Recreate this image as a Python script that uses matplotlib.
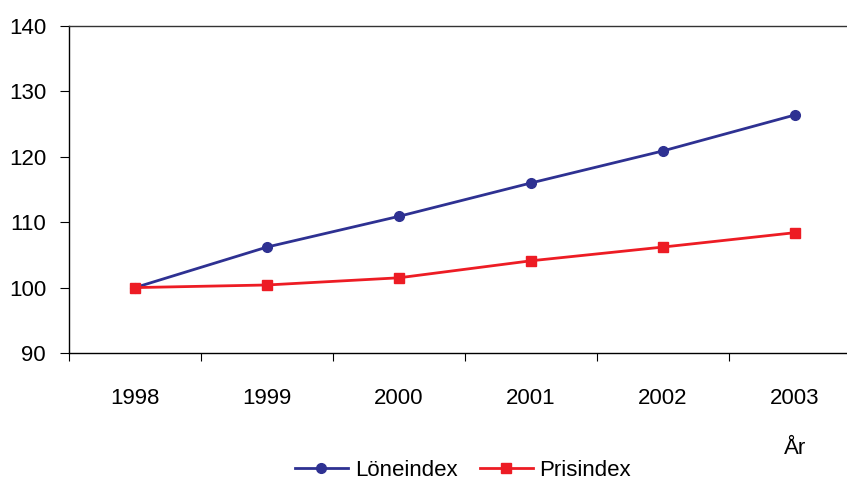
import matplotlib
matplotlib.use("Agg")
import matplotlib.pyplot as plt

years = ["1998", "1999", "2000", "2001", "2002", "2003"]
loneindex = [100.0, 106.2, 110.9, 116.0, 120.9, 126.4]
prisindex = [100.0, 100.4, 101.5, 104.1, 106.2, 108.4]
yticks = [90, 100, 110, 120, 130, 140]

plt.rcParams['font.family'] = ['Liberation Sans', 'DejaVu Sans']
fs = 16

fig = plt.figure(figsize=(8.47, 4.82), dpi=100)
ax = fig.add_axes([69/847, (482-353)/482, (861-69)/847, (353-26)/482])

x = list(range(len(years)))
l1, = ax.plot(x, loneindex, color='#2E3192', lw=2, marker='o', ms=7, label='Löneindex')
l2, = ax.plot(x, prisindex, color='#ED1C24', lw=2, marker='s', ms=6.5, label='Prisindex')

ax.set_xlim(-0.5, len(years) - 0.5)
ax.set_ylim(90, 140)
ax.set_yticks(yticks)
ax.set_yticklabels([str(v) for v in yticks], fontsize=fs)
ax.tick_params(axis='y', direction='out', length=6.5, width=0.8, pad=10)

ax.set_xticks([i - 0.5 for i in range(len(years) + 1)])
ax.set_xticklabels([])
ax.tick_params(axis='x', which='major', direction='out', length=6, width=0.8)
ax.set_xticks(x, minor=True)
ax.set_xticklabels(years, minor=True, fontsize=fs)
ax.tick_params(axis='x', which='minor', length=0, pad=25)

ax.spines['right'].set_visible(False)
ax.spines['top'].set_color('#333333')
for s in ['left', 'bottom', 'top']:
    ax.spines[s].set_linewidth(1.0)

fig.text(795/847, 1 - 448/482, 'År', fontsize=fs, ha='center', va='center')

fig.legend(handles=[l1, l2], loc='center', bbox_to_anchor=(463/847, 1 - 470/482),
           ncol=2, frameon=False, fontsize=fs, handlelength=2.4, handletextpad=0.3,
           columnspacing=1.0, borderaxespad=0)

fig.savefig('out.png', dpi=100)
